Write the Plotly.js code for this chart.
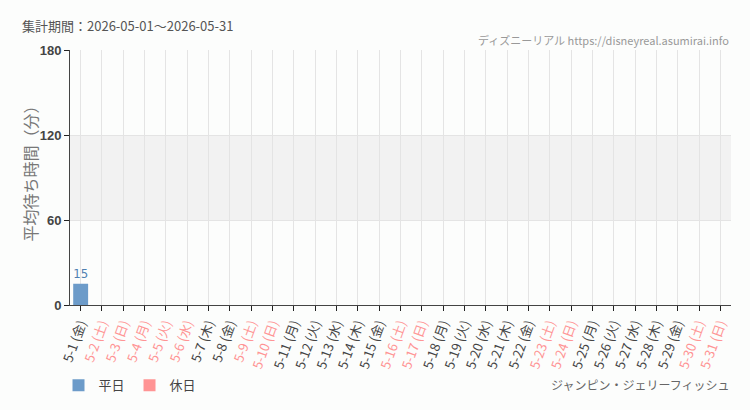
<!DOCTYPE html>
<html>
<head>
<meta charset="utf-8">
<script src="https://cdn.plot.ly/plotly-3.0.1.min.js"></script>
<style>
  html, body { margin: 0; padding: 0; background: #fcfdfc; }
  #plot { width: 750px; height: 410px; }
</style>
</head>
<body>
<div id="plot"></div>
<script>
const dates = ['5-1','5-2','5-3','5-4','5-5','5-6','5-7','5-8','5-9','5-10','5-11','5-12','5-13','5-14','5-15','5-16',
  '5-17','5-18','5-19','5-20','5-21','5-22','5-23','5-24','5-25','5-26','5-27','5-28','5-29','5-30','5-31'];
const weekdays = ['金','土','日','月','火','水','木','金','土','日','月','火','水','木','金','土',
  '日','月','火','水','木','金','土','日','月','火','水','木','金','土','日'];
const holidays = ['5-2','5-3','5-4','5-5','5-6','5-9','5-10','5-16','5-17','5-23','5-24','5-30','5-31'];
const waitTimes = [15, null, null, null, null, null, null, null, null, null, null, null, null, null, null, null,
  null, null, null, null, null, null, null, null, null, null, null, null, null, null, null];
const yTicks = [0, 60, 120, 180];

const blue = '#6c9bc9';
const pink = '#ff9494';

const tickText = dates.map(function (d, i) {
  const label = d + ' (' + weekdays[i] + ')';
  return holidays.includes(d) ? '<span style="color:' + pink + '">' + label + '</span>' : label;
});

const weekdayVals = waitTimes.map(function (v, i) { return holidays.includes(dates[i]) ? null : v; });
const holidayVals = waitTimes.map(function (v, i) { return holidays.includes(dates[i]) ? v : null; });

const traces = [
  {
    type: 'bar', name: '平日', x: dates, y: weekdayVals, width: 0.7,
    marker: {color: blue},
    text: weekdayVals.map(function (v) { return v == null ? '' : String(v); }),
    textposition: 'outside', cliponaxis: false,
    textfont: {color: '#4f7fb0', size: 14, family: 'Liberation Sans Narrow, DejaVu Sans Condensed, sans-serif'}
  },
  {
    type: 'bar', name: '休日', x: dates, y: holidayVals, width: 0.7,
    marker: {color: pink},
    text: holidayVals.map(function (v) { return v == null ? '' : String(v); }),
    textposition: 'outside', cliponaxis: false,
    textfont: {color: '#e07070', size: 14, family: 'Liberation Sans Narrow, sans-serif'}
  }
];

const layout = {
  width: 750, height: 410,
  paper_bgcolor: '#fcfdfc', plot_bgcolor: '#fcfdfc',
  margin: {l: 70, r: 19, t: 50, b: 105},
  font: {family: 'Noto Sans CJK JP, sans-serif', color: '#444', size: 12},
  barmode: 'overlay',
  showlegend: true,
  legend: {orientation: 'h', x: 0.078, y: 0.06, xref: 'container', yref: 'container',
    xanchor: 'left', yanchor: 'middle',
    font: {size: 13, color: '#444'}, bgcolor: 'rgba(0,0,0,0)'},
  xaxis: {
    type: 'category', tickmode: 'array', tickvals: dates, ticktext: tickText,
    tickangle: -70, ticks: 'outside', ticklen: 5, tickcolor: '#222',
    showgrid: true, gridcolor: '#e4e4e4', gridwidth: 1,
    showline: true, linecolor: '#444', linewidth: 1,
    tickfont: {size: 13, color: '#444'},
    range: [-0.5, 30.5], fixedrange: true, automargin: false
  },
  yaxis: {
    range: [0, 180], tickvals: yTicks, ticks: 'outside', ticklen: 5, tickcolor: '#222',
    showgrid: true, gridcolor: '#e4e4e4', zeroline: false,
    showline: true, linecolor: '#444', linewidth: 1,
    tickfont: {size: 13, color: '#444', family: 'Liberation Sans, sans-serif', weight: 'bold'},
    fixedrange: true, automargin: false
  },
  shapes: [
    {type: 'rect', xref: 'paper', yref: 'y', x0: 0, x1: 1, y0: 60, y1: 120,
      fillcolor: '#f2f2f2', line: {width: 0}, layer: 'below'}
  ],
  annotations: [
    {text: '平均待ち時間（分）', xref: 'paper', yref: 'paper', x: -0.061, y: 0.53,
      xanchor: 'center', yanchor: 'middle', textangle: -90, showarrow: false,
      font: {size: 16, color: '#777'}},
    {text: '集計期間：2026-05-01～2026-05-31', xref: 'paper', yref: 'paper', x: -0.076, y: 1.098,
      xanchor: 'left', yanchor: 'middle', showarrow: false, font: {size: 13, color: '#555'}},
    {text: 'ディズニーリアル https://disneyreal.asumirai.info', xref: 'paper', yref: 'paper', x: 1, y: 1.04,
      xanchor: 'right', yanchor: 'middle', showarrow: false,
      font: {size: 11, color: '#999', family: 'Liberation Sans Narrow, Noto Sans CJK JP, sans-serif'}},
    {text: 'ジャンピン・ジェリーフィッシュ', xref: 'paper', yref: 'paper', x: 1, y: -0.31,
      xanchor: 'right', yanchor: 'middle', showarrow: false,
      font: {size: 12, color: '#666'}}
  ]
};

Plotly.newPlot('plot', traces, layout, {displayModeBar: false, staticPlot: true});
</script>
</body>
</html>
